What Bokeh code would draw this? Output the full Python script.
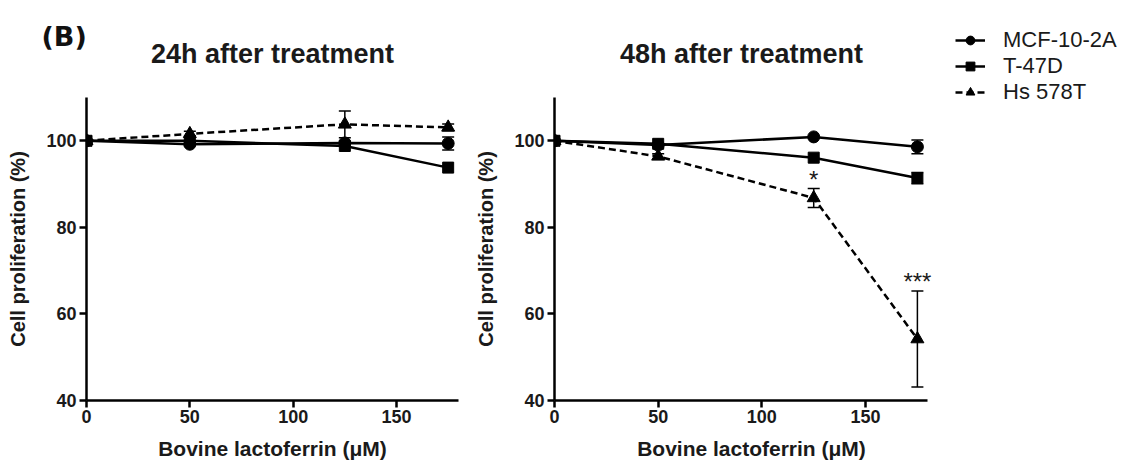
import numpy as np
from bokeh.plotting import figure
from bokeh.models import (ColumnDataSource, Whisker, TeeHead, Label, Legend,
                          LegendItem, Range1d, FixedTicker)
from bokeh.layouts import row, column
from bokeh.embed import file_html
from bokeh.resources import INLINE
from bokeh.core.properties import value

# ---------------- data ----------------
dose = [0, 50, 125, 175]
series_names = ["MCF-10-2A", "T-47D", "Hs 578T"]
panel_titles = ["24h after treatment", "48h after treatment"]
panel_letter = "(B)"
x_ticks = [0, 50, 100, 150]
y_ticks = [40, 60, 80, 100]

# 24 h
mcf_24 = [100, 99.2, 99.5, 99.4]
mcf_24_err = [0, 0, 0, 1.5]
t47d_24 = [100, 100.0, 98.8, 93.8]
t47d_24_err = [0, 0, 0, 0]
hs_24 = [100, 101.6, 103.8, 103.1]
hs_24_err = [0, 0.6, 3.1, 0.8]

# 48 h
mcf_48 = [100, 99.0, 100.9, 98.6]
mcf_48_err = [0, 0, 0, 1.6]
t47d_48 = [100, 99.3, 96.1, 91.4]
t47d_48_err = [0, 0, 0, 1.3]
hs_48 = [100, 96.4, 86.8, 54.2]
hs_48_err = [0, 0.6, 2.2, 11.1]

sig_dose = [125, 175]
sig_text = ["*", "***"]

FONT = "Liberation Sans"
TXT = "#1a1a1a"
markers = ["circle", "square", "triangle"]
marker_sizes = [12, 11, 13]
dashes = ["solid", "solid", "7 4"]


def add_series(p, x, y, err, marker, msize, dash):
    src = ColumnDataSource(dict(x=x, y=y))
    lr = p.line("x", "y", source=src, line_color="black", line_width=2.5, line_dash=dash)
    e = np.array(err, dtype=float)
    yy = np.array(y, dtype=float)
    xx = np.array(x, dtype=float)
    m = e > 0
    if m.any():
        esrc = ColumnDataSource(dict(base=xx[m], upper=(yy + e)[m], lower=(yy - e)[m]))
        w = Whisker(base="base", upper="upper", lower="lower", source=esrc,
                    dimension="height", line_width=1.5, line_color="black",
                    upper_head=TeeHead(size=12, line_width=1.5, line_color="black"),
                    lower_head=TeeHead(size=12, line_width=1.5, line_color="black"))
        p.add_layout(w)
    sr = p.scatter("x", "y", source=src, marker=marker, size=msize,
                   fill_color="black", line_color="black")
    return lr, sr


def make_panel(data, width, x_end, right_border):
    p = figure(width=width, height=370, x_range=Range1d(0, x_end), y_range=Range1d(40, 110),
               output_backend="svg", toolbar_location=None, title=None,
               min_border_left=86, min_border_top=0, min_border_bottom=67,
               min_border_right=right_border)
    p.outline_line_color = None
    p.xgrid.visible = False
    p.ygrid.visible = False
    for ax in (p.xaxis[0], p.yaxis[0]):
        ax.axis_line_width = 2.5
        ax.major_tick_line_width = 2.5
        ax.major_tick_out = 7
        ax.major_tick_in = 0
        ax.minor_tick_line_color = None
        ax.major_label_text_font = FONT
        ax.major_label_text_font_style = "bold"
        ax.major_label_text_font_size = "18px"
        ax.major_label_text_color = TXT
        ax.axis_label_text_font = FONT
        ax.axis_label_text_font_style = "bold"
        ax.axis_label_text_color = TXT
    p.xaxis[0].axis_label_text_font_size = "21px"
    p.yaxis[0].axis_label_text_font_size = "20px"
    p.xaxis[0].bounds = (0, 180)
    p.xaxis[0].ticker = FixedTicker(ticks=x_ticks)
    p.yaxis[0].ticker = FixedTicker(ticks=y_ticks)
    p.xaxis[0].axis_label = "Bovine lactoferrin (\u03bcM)"
    p.yaxis[0].axis_label = "Cell proliferation (%)"
    p.xaxis[0].major_label_standoff = 2
    p.xaxis[0].axis_label_standoff = 11
    p.yaxis[0].major_label_standoff = 3
    p.yaxis[0].axis_label_standoff = 14
    rs = []
    for (y, err), mk, ms, ds in zip(data, markers, marker_sizes, dashes):
        rs.append(add_series(p, dose, y, err, mk, ms, ds))
    return p, rs


data_24 = [(mcf_24, mcf_24_err), (t47d_24, t47d_24_err), (hs_24, hs_24_err)]
data_48 = [(mcf_48, mcf_48_err), (t47d_48, t47d_48_err), (hs_48, hs_48_err)]
p1, _ = make_panel(data_24, 468, 180, 10)
p2, rs2 = make_panel(data_48, 480, 190, 0)

# significance stars above the Hs 578T error bars
hs_top = {d: v + e for d, v, e in zip(dose, hs_48, hs_48_err)}
star_src = ColumnDataSource(dict(x=sig_dose, y=[hs_top[d] for d in sig_dose], t=sig_text))
p2.text("x", "y", text="t", source=star_src, text_align="center", text_baseline="alphabetic",
        y_offset=-9, text_font=value(FONT), text_font_size="24px", text_color=TXT)

# header strip: panel letter and panel titles (pixel-like coordinates)
header = figure(width=948, height=97, output_backend="svg", toolbar_location=None, title=None,
                x_range=Range1d(0, 948), y_range=Range1d(97, 0),
                x_axis_location=None, y_axis_location=None,
                min_border_left=0, min_border_right=0, min_border_top=0, min_border_bottom=0)
header.grid.visible = False
header.outline_line_color = None
header.add_layout(Label(x=41, y=36, text=panel_letter, text_font="DejaVu Sans",
                        text_font_style="bold", text_font_size="27px", text_color="#111111",
                        text_baseline="alphabetic", text_align="left"))
for cx, t in zip([272, 741], panel_titles):
    header.add_layout(Label(x=cx, y=53, text=t, text_font=FONT, text_font_style="bold",
                            text_font_size="27px", text_color=TXT,
                            text_baseline="alphabetic", text_align="center"))

# legend figure: renderers carry the 48 h data but lie outside this figure's view
p3 = figure(width=177, height=467, output_backend="svg", toolbar_location=None, title=None,
            x_range=Range1d(1000, 1001), y_range=Range1d(1000, 1001),
            x_axis_location=None, y_axis_location=None,
            min_border_left=0, min_border_right=0, min_border_top=20, min_border_bottom=0)
p3.grid.visible = False
p3.outline_line_color = None
items = []
for name, (yv, _e), mk, ms, ds in zip(series_names, data_48, markers, marker_sizes, dashes):
    src = ColumnDataSource(dict(x=dose, y=yv))
    lr = p3.line("x", "y", source=src, line_color="black", line_width=2.5, line_dash=ds)
    sr = p3.scatter("x", "y", source=src, marker=mk, size=ms - 1, fill_color="black",
                    line_color="black")
    items.append(LegendItem(label=name, renderers=[lr, sr]))
leg = Legend(items=items, location="top_left", padding=0, margin=7, spacing=0,
             glyph_width=30, glyph_height=22, label_height=22, label_standoff=18,
             label_text_font=FONT, label_text_font_size="22px", label_text_color=TXT,
             border_line_color=None, background_fill_alpha=0)
p3.add_layout(leg)

layout = row(column(header, row(p1, p2)), p3)
open("out.html", "w").write(file_html(layout, INLINE))
